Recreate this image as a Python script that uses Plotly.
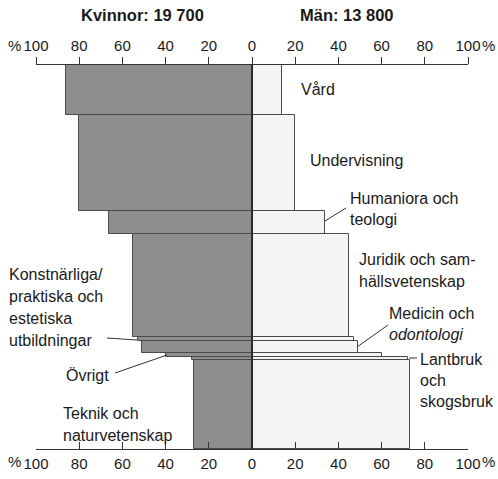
import plotly.graph_objects as go
import numpy as np

# Data
categories = ["Vård", "Undervisning", "Humaniora och teologi", "Juridik och samhällsvetenskap",
              "Konstnärliga/praktiska och estetiska utbildningar", "Medicin och odontologi",
              "Övrigt", "Lantbruk och skogsbruk", "Teknik och naturvetenskap"]
students = [4360, 8375, 2000, 9010, 320, 1070, 300, 330, 7720]
women_pct = [86, 80, 66, 55, 53, 51, 40, 28, 27]
men_pct = [14, 20, 34, 45, 47, 49, 60, 72, 73]
tick_vals = [-100, -80, -60, -40, -20, 0, 20, 40, 60, 80, 100]
tick_text = ["100", "80", "60", "40", "20", "0", "20", "40", "60", "80", "100"]
header_women = "Kvinnor: 19 700"
header_men = "Män: 13 800"

students = np.array(students, dtype=float)
total = students.sum()
edges = np.concatenate([[0], np.cumsum(students)])
centers = (edges[:-1] + edges[1:]) / 2

FONT = "Liberation Sans, Arial, sans-serif"
fig = go.Figure()
fig.add_trace(go.Bar(
    y=centers, x=[-w for w in women_pct], width=students, orientation="h",
    marker=dict(color="#8e8e8e", line=dict(color="#4a4a4a", width=1)),
    hoverinfo="skip", showlegend=False))
fig.add_trace(go.Bar(
    y=centers, x=men_pct, width=students, orientation="h",
    marker=dict(color="#f4f4f4", line=dict(color="#4a4a4a", width=1)),
    hoverinfo="skip", showlegend=False, xaxis="x2"))

# center line
fig.add_shape(type="line", x0=0, x1=0, y0=0, y1=total, xref="x", yref="y",
              line=dict(color="#2a2a2a", width=2))

axis_common = dict(range=[-100, 100], tickvals=tick_vals, ticktext=tick_text,
                   showline=True, linecolor="#333", linewidth=1, ticklen=7,
                   tickcolor="#333", tickwidth=1, showgrid=False, zeroline=False,
                   tickfont=dict(family=FONT, size=15, color="#1a1a1a"), fixedrange=True)
fig.update_layout(
    width=498, height=479,
    margin=dict(l=36, r=30, t=65, b=30, autoexpand=False),
    paper_bgcolor="white", plot_bgcolor="white",
    barmode="overlay", bargap=0,
    xaxis=dict(side="top", ticks="outside", **axis_common),
    xaxis2=dict(side="bottom", ticks="inside", overlaying="x", anchor="y",
                ticklabelstandoff=1, **axis_common),
    yaxis=dict(range=[total, 0], visible=False, fixedrange=True),
    font=dict(family=FONT, size=16, color="#1a1a1a"),
)

anns = []
def txt(x, y, s, xanchor="left", size=16, bold=False, italic=False):
    if bold:
        s = "<b>" + s + "</b>"
    anns.append(dict(x=x, y=y, xref="paper", yref="paper", text=s, showarrow=False,
                     xanchor=xanchor, yanchor="middle",
                     font=dict(family=FONT, size=size, color="#1a1a1a",
                               style="italic" if italic else "normal")))

L, T, PW, PH = 36.0, 65.0, 432.0, 384.0
def px(x, y):
    return ((x - L) / PW, 1 - (y - T) / PH)

def label(x, y, s, **kw):
    X, Y = px(x, y)
    txt(X, Y, s, **kw)

label(142, 15, header_women, xanchor="center", size=16.5, bold=True)
label(347, 15, header_men, xanchor="center", size=16.5, bold=True)
label(6, 45, "%", size=15)
label(480, 45, "%", size=15)
label(6, 461, "%", size=15)
label(480, 461, "%", size=15)

label(299, 90, "Vård")
label(308, 160, "Undervisning")
label(348, 199, "Humaniora och")
label(348, 220, "teologi")
label(357, 259, "Juridik och sam-")
label(357, 281, "hällsvetenskap")
label(387, 313, "Medicin och")
label(387, 334, "odontologi", italic=True)
label(418, 359, "Lantbruk")
label(418, 380, "och")
label(418, 401, "skogsbruk")
label(7, 274, "Konstnärliga/")
label(7, 296, "praktiska och")
label(7, 318, "estetiska")
label(7, 340, "utbildningar")
label(64, 375, "Övrigt")
label(61, 413, "Teknik och")
label(61, 435, "naturvetenskap")
fig.update_layout(annotations=anns)

# leader lines
def leader(x0, y0, x1, y1):
    a0, b0 = px(x0, y0)
    a1, b1 = px(x1, y1)
    fig.add_shape(type="line", xref="paper", yref="paper", x0=a0, y0=b0, x1=a1, y1=b1,
                  line=dict(color="#333", width=1))

leader(325, 221, 346, 208)
leader(357, 347, 388, 325)
leader(409, 358, 417, 358)
leader(107, 338, 137, 340)
leader(115, 373, 167, 355)

fig.write_html("out.html", config={"displayModeBar": False},
               post_script="document.body.style.margin='0';document.body.style.overflow='hidden';")
